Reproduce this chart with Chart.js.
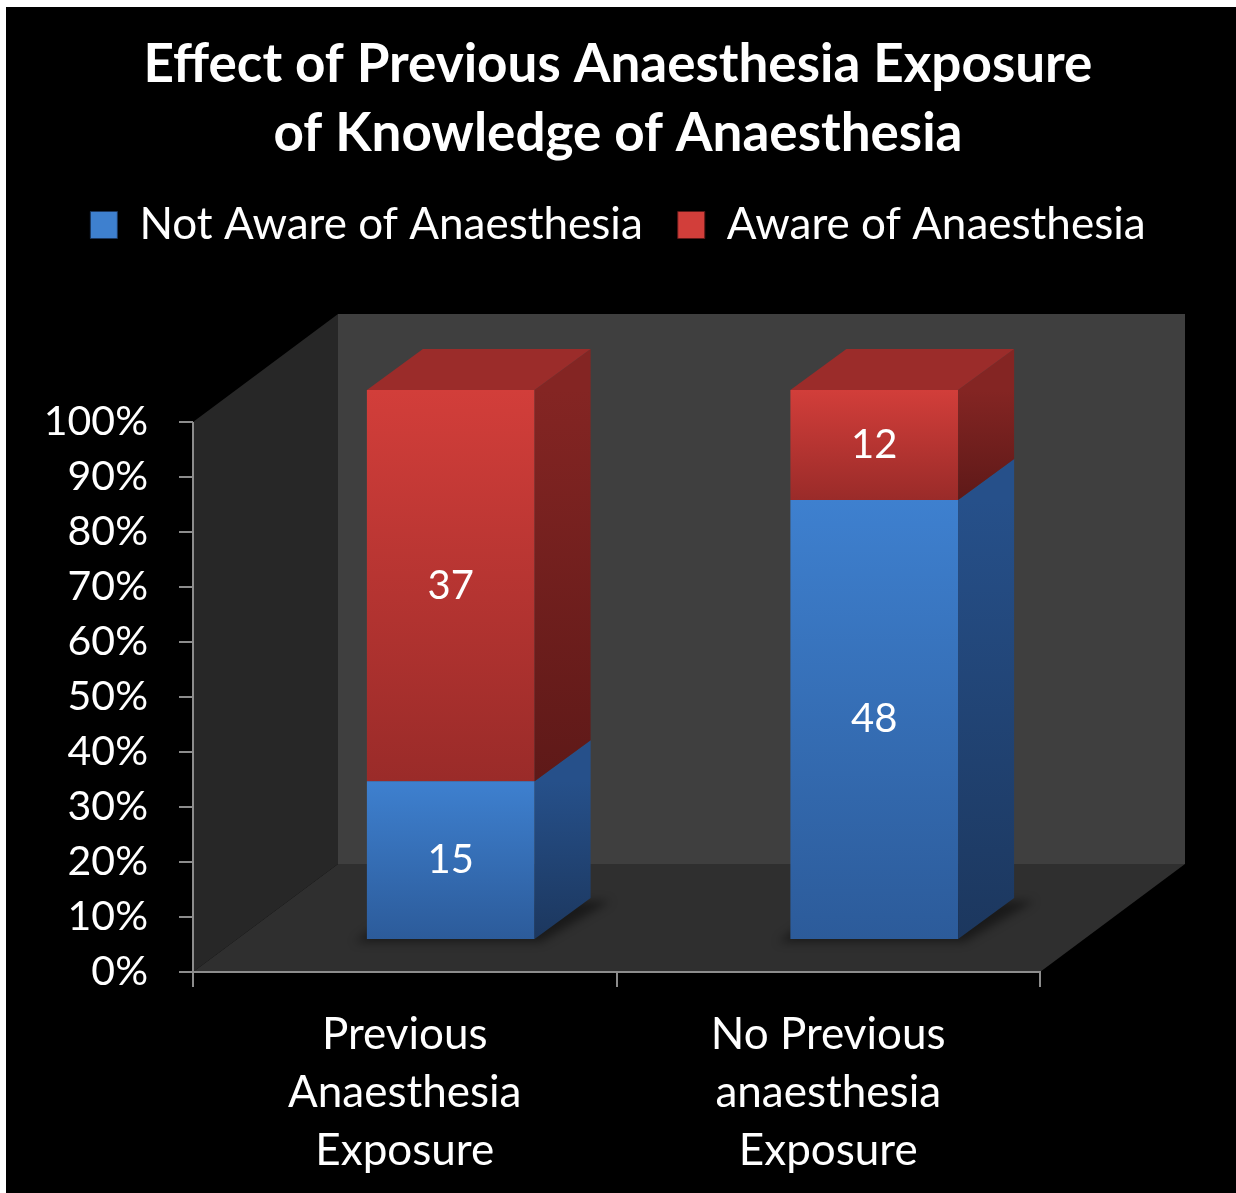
<!DOCTYPE html>
<html>
<head>
<meta charset="utf-8">
<script src="https://cdn.jsdelivr.net/npm/chart.js@4.4.0/dist/chart.umd.min.js"></script>
<style>
  html, body { margin: 0; padding: 0; background: #fff; }
  canvas { display: block; }
</style>
</head>
<body>
<canvas id="myChart" width="1236" height="1193"></canvas>
<script>
const categories = [['Previous', 'Anaesthesia', 'Exposure'], ['No Previous', 'anaesthesia', 'Exposure']]
const seriesNames = ['Not Aware of Anaesthesia', 'Aware of Anaesthesia']
const notAware = [15, 48]
const aware = [37, 12]
const yTickMax = 100

const counts = [notAware, aware]
const totals = notAware.map((v, i) => v + aware[i])
const pct = counts.map(arr => arr.map((v, i) => v / totals[i] * 100))

// front top, front bottom, side top, side bottom, top face
const palette = [
    ['#3e80cf', '#2c5b9a', '#26508a', '#1c375e', '#2f65a8'],
    ['#d23e3a', '#9a2b29', '#842523', '#5e1918', '#9b2c2a'],
]

const FONT = 'Lato'
const DEPTH = { x: 145, y: -108 }
const SHIFT = { x: 46, y: -32 }
const BAR_DEPTH = { x: 56, y: -41 }

const poly = (ctx, pts, fill) => {
    ctx.beginPath()
    pts.forEach(([x, y], i) => i ? ctx.lineTo(x, y) : ctx.moveTo(x, y))
    ctx.closePath()
    ctx.fillStyle = fill
    ctx.fill()
}

const frontFill = (c) => {
    const chart = c.chart
    const ds = c.datasetIndex, i = c.dataIndex
    const [top, bottom] = palette[ds]
    if (!chart.chartArea || i === undefined) return top
    const y = chart.scales.y
    let start = 0
    for (let k = 0; k < ds; k++) start += pct[k][i]
    const g = chart.ctx.createLinearGradient(0, y.getPixelForValue(start + pct[ds][i]), 0, y.getPixelForValue(start))
    g.addColorStop(0, top)
    g.addColorStop(1, bottom)
    return g
}

const box3d = {
    id: 'box3d',
    beforeDraw(chart) {
        const { ctx, chartArea: a, scales: { y } } = chart
        ctx.save()
        ctx.fillStyle = '#fff'
        ctx.fillRect(0, 0, chart.width, chart.height)
        ctx.fillStyle = '#000'
        ctx.fillRect(6, 7, chart.width, chart.height)
        const top = y.getPixelForValue(yTickMax), bottom = y.getPixelForValue(0)
        const L = a.left, R = a.right, dx = DEPTH.x, dy = DEPTH.y
        poly(ctx, [[L + dx, top + dy], [R + dx, top + dy], [R + dx, bottom + dy], [L + dx, bottom + dy]], '#3f3f3f')
        poly(ctx, [[L, top], [L + dx, top + dy], [L + dx, bottom + dy], [L, bottom]], '#272727')
        poly(ctx, [[L, bottom], [L + dx, bottom + dy], [R + dx, bottom + dy], [R, bottom]], '#2f2f2f')
        ctx.strokeStyle = '#8c8c8c'
        ctx.lineWidth = 2
        ctx.beginPath()
        ctx.moveTo(L, top)
        ctx.lineTo(L, bottom)
        ctx.stroke()
        ctx.restore()
    },
    beforeDatasetsDraw(chart) {
        const ctx = chart.ctx
        ctx.save()
        ctx.filter = 'blur(5px)'
        chart.getDatasetMeta(0).data.forEach(el => {
            const l = el.x - el.width / 2 + SHIFT.x - 12, r = el.x + el.width / 2 + SHIFT.x + 6
            const b = el.base + SHIFT.y + 3
            poly(ctx, [[l, b], [r, b], [r + BAR_DEPTH.x + 14, b + BAR_DEPTH.y], [l + BAR_DEPTH.x, b + BAR_DEPTH.y]], 'rgba(0,0,0,0.45)')
        })
        ctx.restore()
        ctx.save()
        ctx.translate(SHIFT.x, SHIFT.y)
    },
    afterDatasetsDraw(chart) {
        const ctx = chart.ctx
        ctx.restore()
        ctx.save()
        const bx = BAR_DEPTH.x, by = BAR_DEPTH.y
        const last = counts.length - 1
        counts.forEach((arr, ds) => {
            chart.getDatasetMeta(ds).data.forEach((el, i) => {
                const L = el.x - el.width / 2 + SHIFT.x, R = el.x + el.width / 2 + SHIFT.x
                const t = el.y + SHIFT.y, b = el.base + SHIFT.y
                const g = ctx.createLinearGradient(0, t, 0, b)
                g.addColorStop(0, palette[ds][2])
                g.addColorStop(1, palette[ds][3])
                poly(ctx, [[R, t], [R + bx, t + by], [R + bx, b + by], [R, b]], g)
                if (ds === last) {
                    poly(ctx, [[L, t], [R, t], [R + bx, t + by], [L + bx, t + by]], palette[ds][4])
                }
            })
        })
        ctx.fillStyle = '#fff'
        ctx.font = `40px ${FONT}`
        ctx.textAlign = 'center'
        ctx.textBaseline = 'middle'
        counts.forEach((arr, ds) => {
            chart.getDatasetMeta(ds).data.forEach((el, i) => {
                ctx.fillText(String(arr[i]), el.x + SHIFT.x, (el.y + el.base) / 2 + SHIFT.y)
            })
        })
        ctx.restore()
    }
}

const chart = new Chart('myChart', {
    type: 'bar',
    data: {
        labels: categories,
        datasets: seriesNames.map((name, ds) => ({
            label: name,
            data: pct[ds],
            backgroundColor: frontFill,
            borderWidth: 0,
            barPercentage: 0.396,
            categoryPercentage: 1,
        }))
    },
    options: {
        responsive: false,
        devicePixelRatio: 1,
        animation: false,
        events: [],
        layout: { padding: 0 },
        plugins: {
            title: {
                display: true,
                text: ['Effect of Previous Anaesthesia Exposure', 'of Knowledge of Anaesthesia'],
                color: '#fff',
                font: { family: FONT, size: 53, weight: 'bold', lineHeight: '69px' },
                padding: { top: 30, bottom: 0 }
            },
            legend: {
                labels: {
                    color: '#fff',
                    font: { family: FONT, size: 44 },
                    boxWidth: 27,
                    boxHeight: 27,
                    padding: 35,
                    generateLabels: () => seriesNames.map((name, i) => ({
                        text: name,
                        fillStyle: palette[i][0],
                        strokeStyle: palette[i][3],
                        lineWidth: 1,
                        fontColor: '#fff',
                        datasetIndex: i,
                        hidden: false
                    }))
                }
            },
            tooltip: { enabled: false }
        },
        scales: {
            x: {
                stacked: true,
                grid: { offset: true, drawOnChartArea: false, tickLength: 15, color: '#8c8c8c', lineWidth: 2 },
                border: { display: true, color: '#8c8c8c', width: 2 },
                ticks: { color: '#fff', padding: 19, maxRotation: 0, autoSkip: false, font: { family: FONT, size: 44, lineHeight: '58px' } },
                afterFit: s => { s.height = 221 }
            },
            y: {
                stacked: true,
                min: 0,
                max: 130,
                grid: { drawOnChartArea: false, tickLength: 14, color: '#8c8c8c', lineWidth: 2 },
                border: { display: false },
                ticks: { stepSize: 10, color: '#fff', padding: 31, font: { family: FONT, size: 41 }, callback: v => v + '%' },
                afterBuildTicks: s => { s.ticks = s.ticks.filter(t => t.value <= yTickMax) },
                afterFit: s => { s.width = 193 }
            },
            depth: {
                position: 'right',
                grid: { display: false },
                border: { display: false },
                ticks: { display: false },
                afterFit: s => { s.width = 196 }
            }
        }
    },
    plugins: [box3d]
})
</script>
</body>
</html>
